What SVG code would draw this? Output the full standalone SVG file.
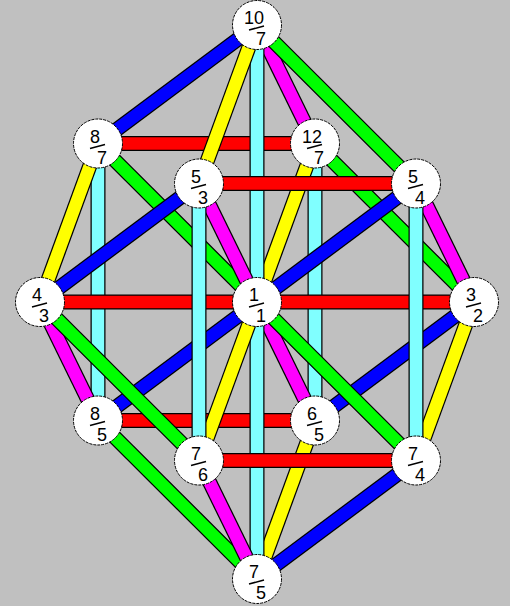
<svg xmlns="http://www.w3.org/2000/svg" width="510" height="606" viewBox="0 0 510 606">
<style>
.k{stroke:#000;stroke-width:15;stroke-linecap:butt}
.r{stroke:#ff0000;stroke-width:12.5}
.b{stroke:#0000ff;stroke-width:12.5}
.g{stroke:#00ff00;stroke-width:12.5}
.y{stroke:#ffff00;stroke-width:12.5}
.m{stroke:#ff00ff;stroke-width:12.5}
.c{stroke:#80ffff;stroke-width:12.5}
.node circle{fill:#fff;stroke:#000;stroke-width:1;stroke-dasharray:3 1}
.node text{font-family:"Liberation Sans Narrow","Liberation Sans",Arial,sans-serif;font-size:18px;fill:#000;text-anchor:middle}
.node line{stroke:#000;stroke-width:1.5}
</style>
<rect width="510" height="606" fill="#c0c0c0"/>
<g id="connectors">
<line class="k" x1="315" y1="143.5" x2="315" y2="420.5"/><line class="c" x1="315" y1="143.5" x2="315" y2="420.5"/>
<line class="k" x1="98" y1="420.5" x2="315" y2="420.5"/><line class="r" x1="98" y1="420.5" x2="315" y2="420.5"/>
<line class="k" x1="98" y1="143.5" x2="315" y2="143.5"/><line class="r" x1="98" y1="143.5" x2="315" y2="143.5"/>
<line class="k" x1="315" y1="420.5" x2="474" y2="302"/><line class="b" x1="315" y1="420.5" x2="474" y2="302"/>
<line class="k" x1="315" y1="143.5" x2="474" y2="302"/><line class="g" x1="315" y1="143.5" x2="474" y2="302"/>
<line class="k" x1="98" y1="143.5" x2="98" y2="420.5"/><line class="c" x1="98" y1="143.5" x2="98" y2="420.5"/>
<line class="k" x1="315" y1="420.5" x2="257" y2="579"/><line class="y" x1="315" y1="420.5" x2="257" y2="579"/>
<line class="k" x1="257" y1="302" x2="315" y2="420.5"/><line class="m" x1="257" y1="302" x2="315" y2="420.5"/>
<line class="k" x1="315" y1="143.5" x2="257" y2="302"/><line class="y" x1="315" y1="143.5" x2="257" y2="302"/>
<line class="k" x1="257" y1="25" x2="315" y2="143.5"/><line class="m" x1="257" y1="25" x2="315" y2="143.5"/>
<line class="k" x1="98" y1="420.5" x2="257" y2="579"/><line class="g" x1="98" y1="420.5" x2="257" y2="579"/>
<line class="k" x1="98" y1="420.5" x2="257" y2="302"/><line class="b" x1="98" y1="420.5" x2="257" y2="302"/>
<line class="k" x1="98" y1="143.5" x2="257" y2="302"/><line class="g" x1="98" y1="143.5" x2="257" y2="302"/>
<line class="k" x1="98" y1="143.5" x2="257" y2="25"/><line class="b" x1="98" y1="143.5" x2="257" y2="25"/>
<line class="k" x1="257" y1="302" x2="474" y2="302"/><line class="r" x1="257" y1="302" x2="474" y2="302"/>
<line class="k" x1="40" y1="302" x2="98" y2="420.5"/><line class="m" x1="40" y1="302" x2="98" y2="420.5"/>
<line class="k" x1="98" y1="143.5" x2="40" y2="302"/><line class="y" x1="98" y1="143.5" x2="40" y2="302"/>
<line class="k" x1="257" y1="302" x2="257" y2="579"/><line class="c" x1="257" y1="302" x2="257" y2="579"/>
<line class="k" x1="257" y1="25" x2="257" y2="302"/><line class="c" x1="257" y1="25" x2="257" y2="302"/>
<line class="k" x1="474" y1="302" x2="416" y2="460.5"/><line class="y" x1="474" y1="302" x2="416" y2="460.5"/>
<line class="k" x1="416" y1="183.5" x2="474" y2="302"/><line class="m" x1="416" y1="183.5" x2="474" y2="302"/>
<line class="k" x1="40" y1="302" x2="257" y2="302"/><line class="r" x1="40" y1="302" x2="257" y2="302"/>
<line class="k" x1="257" y1="579" x2="416" y2="460.5"/><line class="b" x1="257" y1="579" x2="416" y2="460.5"/>
<line class="k" x1="257" y1="302" x2="416" y2="460.5"/><line class="g" x1="257" y1="302" x2="416" y2="460.5"/>
<line class="k" x1="257" y1="302" x2="416" y2="183.5"/><line class="b" x1="257" y1="302" x2="416" y2="183.5"/>
<line class="k" x1="257" y1="25" x2="416" y2="183.5"/><line class="g" x1="257" y1="25" x2="416" y2="183.5"/>
<line class="k" x1="199" y1="460.5" x2="257" y2="579"/><line class="m" x1="199" y1="460.5" x2="257" y2="579"/>
<line class="k" x1="257" y1="302" x2="199" y2="460.5"/><line class="y" x1="257" y1="302" x2="199" y2="460.5"/>
<line class="k" x1="199" y1="183.5" x2="257" y2="302"/><line class="m" x1="199" y1="183.5" x2="257" y2="302"/>
<line class="k" x1="257" y1="25" x2="199" y2="183.5"/><line class="y" x1="257" y1="25" x2="199" y2="183.5"/>
<line class="k" x1="416" y1="183.5" x2="416" y2="460.5"/><line class="c" x1="416" y1="183.5" x2="416" y2="460.5"/>
<line class="k" x1="40" y1="302" x2="199" y2="460.5"/><line class="g" x1="40" y1="302" x2="199" y2="460.5"/>
<line class="k" x1="40" y1="302" x2="199" y2="183.5"/><line class="b" x1="40" y1="302" x2="199" y2="183.5"/>
<line class="k" x1="199" y1="460.5" x2="416" y2="460.5"/><line class="r" x1="199" y1="460.5" x2="416" y2="460.5"/>
<line class="k" x1="199" y1="183.5" x2="416" y2="183.5"/><line class="r" x1="199" y1="183.5" x2="416" y2="183.5"/>
<line class="k" x1="199" y1="183.5" x2="199" y2="460.5"/><line class="c" x1="199" y1="183.5" x2="199" y2="460.5"/>
</g>
<g id="n10-7" class="node" transform="translate(257,25)"><circle r="24.5"/><text x="-3" y="-1">10</text><line x1="-8" y1="5" x2="7" y2="1"/><text x="4" y="20">7</text></g>
<g id="n8-7" class="node" transform="translate(98,143.5)"><circle r="24.5"/><text x="-3" y="-1">8</text><line x1="-8" y1="5" x2="7" y2="1"/><text x="4" y="20">7</text></g>
<g id="n12-7" class="node" transform="translate(315,143.5)"><circle r="24.5"/><text x="-3" y="-1">12</text><line x1="-8" y1="5" x2="7" y2="1"/><text x="4" y="20">7</text></g>
<g id="n5-3" class="node" transform="translate(199,183.5)"><circle r="24.5"/><text x="-3" y="-1">5</text><line x1="-8" y1="5" x2="7" y2="1"/><text x="4" y="20">3</text></g>
<g id="n5-4" class="node" transform="translate(416,183.5)"><circle r="24.5"/><text x="-3" y="-1">5</text><line x1="-8" y1="5" x2="7" y2="1"/><text x="4" y="20">4</text></g>
<g id="n4-3" class="node" transform="translate(40,302)"><circle r="24.5"/><text x="-3" y="-1">4</text><line x1="-8" y1="5" x2="7" y2="1"/><text x="4" y="20">3</text></g>
<g id="n1-1" class="node" transform="translate(257,302)"><circle r="24.5"/><text x="-3" y="-1">1</text><line x1="-8" y1="5" x2="7" y2="1"/><text x="4" y="20">1</text></g>
<g id="n3-2" class="node" transform="translate(474,302)"><circle r="24.5"/><text x="-3" y="-1">3</text><line x1="-8" y1="5" x2="7" y2="1"/><text x="4" y="20">2</text></g>
<g id="n8-5" class="node" transform="translate(98,420.5)"><circle r="24.5"/><text x="-3" y="-1">8</text><line x1="-8" y1="5" x2="7" y2="1"/><text x="4" y="20">5</text></g>
<g id="n6-5" class="node" transform="translate(315,420.5)"><circle r="24.5"/><text x="-3" y="-1">6</text><line x1="-8" y1="5" x2="7" y2="1"/><text x="4" y="20">5</text></g>
<g id="n7-6" class="node" transform="translate(199,460.5)"><circle r="24.5"/><text x="-3" y="-1">7</text><line x1="-8" y1="5" x2="7" y2="1"/><text x="4" y="20">6</text></g>
<g id="n7-4" class="node" transform="translate(416,460.5)"><circle r="24.5"/><text x="-3" y="-1">7</text><line x1="-8" y1="5" x2="7" y2="1"/><text x="4" y="20">4</text></g>
<g id="n7-5" class="node" transform="translate(257,579)"><circle r="24.5"/><text x="-3" y="-1">7</text><line x1="-8" y1="5" x2="7" y2="1"/><text x="4" y="20">5</text></g>
</svg>
